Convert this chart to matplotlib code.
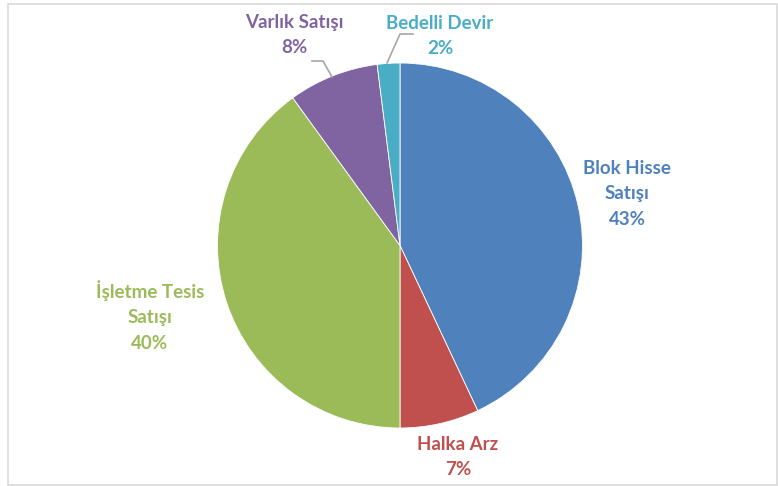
import matplotlib.pyplot as plt
from matplotlib.patches import Rectangle

# slice data
labels = ["Blok Hisse\nSatışı", "Halka Arz", "İşletme Tesis\nSatışı", "Varlık Satışı", "Bedelli Devir"]
values = [43, 7, 40, 8, 2]
colors = ["#4F81BD", "#C0504D", "#9BBB59", "#8064A2", "#4BACC6"]

W, H = 778, 486
fig = plt.figure(figsize=(W / 100, H / 100), dpi=100)
ax = fig.add_axes([0, 0, 1, 1])

# chart border
ax.add_patch(Rectangle((8, 1), 769, H - 5, fill=False, edgecolor="#D9D9D9", lw=1.2))

cx, cy, r = 400, H - 245.5, 182.5
ax.pie(values, colors=colors, startangle=90, counterclock=False,
       center=(cx, cy), radius=r, frame=True,
       wedgeprops=dict(edgecolor="white", linewidth=0.6))
ax.set_xlim(0, W)
ax.set_ylim(0, H)
ax.set_aspect("equal")
ax.axis("off")

# label positions (pixel coords from top)
label_pos = [(627, 194), (458, 457), (150, 316), (294, 35), (440, 36)]
for lab, v, c, (x, y) in zip(labels, values, colors, label_pos):
    ax.text(x, H - y, f"{lab}\n{v}%", ha="center", va="center", color=c,
            fontsize=13.5, fontweight="bold", family=["Lato", "DejaVu Sans"],
            linespacing=1.6)

# leader lines
ax.plot([312, 323, 332], [H - 61, H - 61, H - 77], color="#A6A6A6", lw=1.2)
ax.plot([413, 400, 387], [H - 34, H - 34, H - 63], color="#A6A6A6", lw=1.2)

fig.savefig("out.png", dpi=100)
